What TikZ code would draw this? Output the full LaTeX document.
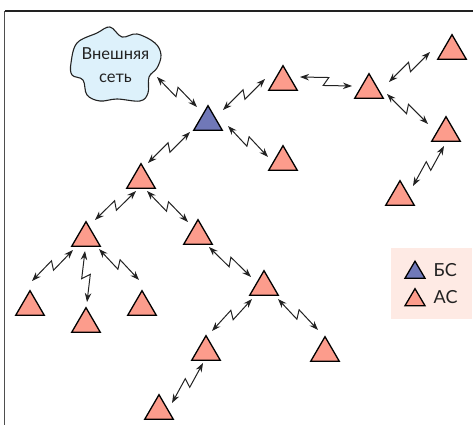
\documentclass[tikz,border=0pt]{standalone}
\usepackage{fontspec}
\setmainfont{Lato}
\usetikzlibrary{arrows.meta,calc,shapes.geometric}
\definecolor{salmon}{HTML}{FC9C8C}
\definecolor{bsblue}{HTML}{7078B8}
\definecolor{cloudfill}{HTML}{DDF1FB}
\definecolor{legendbg}{HTML}{FEEAE4}
\definecolor{ink}{HTML}{222222}
\tikzset{
  tri/.style={isosceles triangle, isosceles triangle stretches, shape border rotate=90,
    minimum width=28.5pt, minimum height=24.5pt, inner sep=0pt, draw=black, line width=1.3pt,
    line join=miter, anchor=apex, fill=salmon},
  trib/.style={tri, fill=bsblue},
  legtri/.style={tri, minimum width=20pt, minimum height=17pt},
  zigarrow/.style={draw=ink, line width=1pt, {Stealth[length=9pt,width=6.5pt]}-{Stealth[length=9pt,width=6.5pt]},
    to path={-- ($(\tikztostart)!.54!(\tikztotarget)!#1!90:(\tikztotarget)$)
             -- ($(\tikztostart)!.46!(\tikztotarget)!#1!-90:(\tikztotarget)$)
             -- (\tikztotarget)}},
  zp/.style={zigarrow=4.4pt},
  zn/.style={zigarrow=-4.4pt},
  label/.style={text=ink, inner sep=0pt}
}
\begin{document}
\begin{tikzpicture}[x=1pt,y=-1pt]
\useasboundingbox (0,0) rectangle (473,425);
\coordinate (frameTop) at (4.5,11);
\coordinate (frameRight) at (473,11);
\coordinate (frameBottom) at (4.5,425);
\draw[ink, line width=1.1pt] (frameRight) -- (frameTop);
\draw[ink!80, line width=1.6pt] (frameTop) -- (frameBottom);
% cloud
\draw[fill=cloudfill, draw=ink, line width=1.1pt] plot[smooth cycle, tension=.6] coordinates
 {(110,27) (122,37) (137,34) (155,43) (161,55) (157,68) (149,77) (148,93) (140,101) (117,99) (100,101) (87,95) (83,80) (72,75) (71,63) (77,43) (97,33)};
\node[label, align=center, font=\fontsize{16.5}{23}\selectfont] (net) at (115.5,65) {Внешняя\\сеть};
% stations
\node[trib] (bs) at (208,104) {};
\node[tri] (mA) at (283,64) {};
\node[tri] (mB) at (283,144) {};
\node[tri] (rO) at (369,72) {};
\node[tri] (rA) at (452,33) {};
\node[tri] (rB) at (446,115) {};
\node[tri] (rC) at (400,179) {};
\node[tri] (a) at (141,162) {};
\node[tri] (b) at (86,220) {};
\node[tri] (c) at (198,218) {};
\node[tri] (d) at (30,289) {};
\node[tri] (e) at (86,306) {};
\node[tri] (f) at (142,289) {};
\node[tri] (g) at (264,269) {};
\node[tri] (h) at (325,335) {};
\node[tri] (i) at (206,334) {};
\node[tri] (j) at (159,393) {};
% connectors: ends given as offsets from the apex of each station
\draw[zn] ([shift={(41.5,12)}]net.center) to ([shift={(-11,3)}]bs.apex);
\draw[zp] ([shift={(-18,28)}]bs.apex) to ([shift={(7,1)}]a.apex);
\draw[zp] ([shift={(15,6)}]bs.apex) to ([shift={(-18,15)}]mA.apex);
\draw[zn] ([shift={(20,22)}]bs.apex) to ([shift={(-15,13)}]mB.apex);
\draw[zp] ([shift={(17,13)}]mA.apex) to ([shift={(-17,14)}]rO.apex);
\draw[zp] ([shift={(20,10)}]rO.apex) to ([shift={(-22,19)}]rA.apex);
\draw[zn] ([shift={(18,22)}]rO.apex) to ([shift={(-18,9)}]rB.apex);
\draw[zp] ([shift={(13,7)}]rC.apex) to ([shift={(-2,31)}]rB.apex);
\draw[zp] ([shift={(9,0)}]b.apex) to ([shift={(-5,29)}]a.apex);
\draw[zn] ([shift={(6,29)}]a.apex) to ([shift={(-10,4)}]c.apex);
\draw[zp] ([shift={(2,-8)}]d.apex) to ([shift={(-13,30)}]b.apex);
\draw[zn] ([shift={(-1,31)}]b.apex) to ([shift={(1,-4)}]e.apex);
\draw[zn] ([shift={(13,29)}]b.apex) to ([shift={(-3,-9)}]f.apex);
\draw[zn] ([shift={(11,29)}]c.apex) to ([shift={(-13,8)}]g.apex);
\draw[zp] ([shift={(6,-3)}]i.apex) to ([shift={(-12,30)}]g.apex);
\draw[zn] ([shift={(14,30)}]g.apex) to ([shift={(-7,-5)}]h.apex);
\draw[zp] ([shift={(13,10)}]j.apex) to ([shift={(-3,29)}]i.apex);
% legend
\fill[legendbg] (391,248) rectangle (472,319);
\node[trib, legtri, fill=bsblue] (legB) at (415,259.5) {};
\node[legtri] (legA) at (415,287) {};
\node[label, anchor=west, font=\fontsize{18}{18}\selectfont] (txtB) at (433.5,270) {БС};
\node[label, anchor=west, font=\fontsize{18}{18}\selectfont] (txtA) at (433.5,297) {АС};
\end{tikzpicture}
\end{document}
